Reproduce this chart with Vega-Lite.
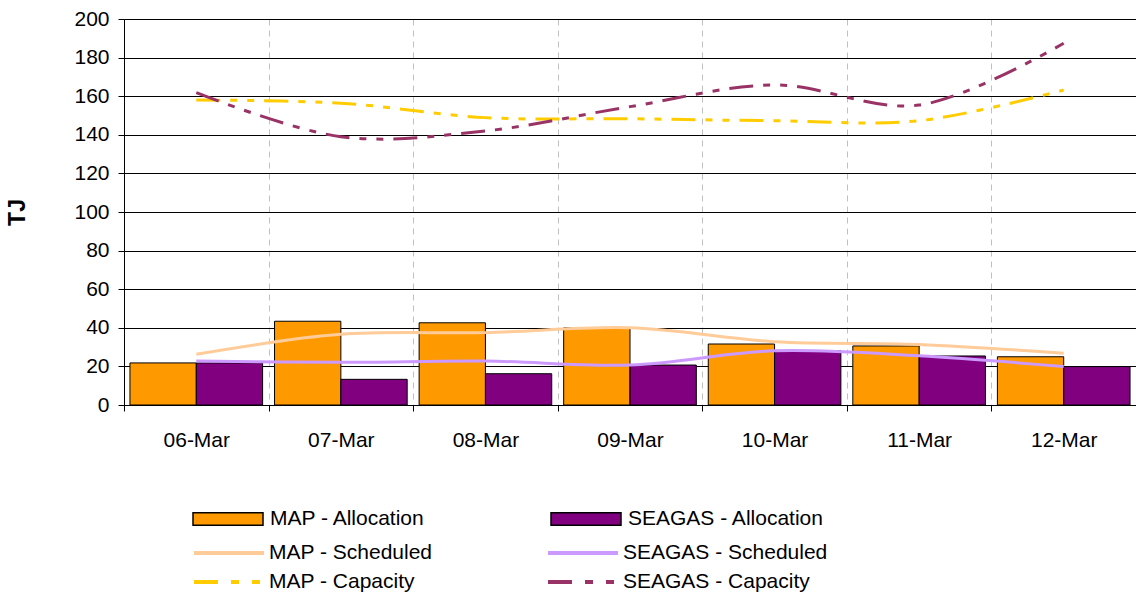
{
  "$schema": "https://vega.github.io/schema/vega-lite/v6.json",
  "width": 1012,
  "height": 386,
  "autosize": {"type": "none"},
  "padding": {"left": 124, "top": 19, "right": 0, "bottom": 187},
  "background": "white",
  "config": {
    "font": "Liberation Sans",
    "view": {"stroke": null},
    "axis": {"labelFont": "Liberation Sans", "titleFont": "Liberation Sans", "labelColor": "black", "titleColor": "black", "domainColor": "black", "tickColor": "black"},
    "legend": {"labelFont": "Liberation Sans", "labelFontSize": 21, "labelColor": "black", "labelLimit": 400, "labelOffset": 7, "title": null}
  },
  "data": {"values": [
    {"date": "06-Mar", "series": "MAP - Allocation", "value": 21.8},
    {"date": "06-Mar", "series": "SEAGAS - Allocation", "value": 21.8},
    {"date": "06-Mar", "series": "MAP - Scheduled", "value": 26.3},
    {"date": "06-Mar", "series": "SEAGAS - Scheduled", "value": 22.8},
    {"date": "06-Mar", "series": "MAP - Capacity", "value": 158.0},
    {"date": "06-Mar", "series": "SEAGAS - Capacity", "value": 161.8},
    {"date": "07-Mar", "series": "MAP - Allocation", "value": 43.4},
    {"date": "07-Mar", "series": "SEAGAS - Allocation", "value": 13.3},
    {"date": "07-Mar", "series": "MAP - Scheduled", "value": 36.6},
    {"date": "07-Mar", "series": "SEAGAS - Scheduled", "value": 22.1},
    {"date": "07-Mar", "series": "MAP - Capacity", "value": 156.4},
    {"date": "07-Mar", "series": "SEAGAS - Capacity", "value": 139.0},
    {"date": "08-Mar", "series": "MAP - Allocation", "value": 42.6},
    {"date": "08-Mar", "series": "SEAGAS - Allocation", "value": 16.2},
    {"date": "08-Mar", "series": "MAP - Scheduled", "value": 37.5},
    {"date": "08-Mar", "series": "SEAGAS - Scheduled", "value": 22.8},
    {"date": "08-Mar", "series": "MAP - Capacity", "value": 148.9},
    {"date": "08-Mar", "series": "SEAGAS - Capacity", "value": 142.0},
    {"date": "09-Mar", "series": "MAP - Allocation", "value": 40.0},
    {"date": "09-Mar", "series": "SEAGAS - Allocation", "value": 20.7},
    {"date": "09-Mar", "series": "MAP - Scheduled", "value": 40.0},
    {"date": "09-Mar", "series": "SEAGAS - Scheduled", "value": 20.7},
    {"date": "09-Mar", "series": "MAP - Capacity", "value": 148.3},
    {"date": "09-Mar", "series": "SEAGAS - Capacity", "value": 154.6},
    {"date": "10-Mar", "series": "MAP - Allocation", "value": 31.6},
    {"date": "10-Mar", "series": "SEAGAS - Allocation", "value": 28.1},
    {"date": "10-Mar", "series": "MAP - Scheduled", "value": 32.8},
    {"date": "10-Mar", "series": "SEAGAS - Scheduled", "value": 28.1},
    {"date": "10-Mar", "series": "MAP - Capacity", "value": 147.3},
    {"date": "10-Mar", "series": "SEAGAS - Capacity", "value": 165.8},
    {"date": "11-Mar", "series": "MAP - Allocation", "value": 30.6},
    {"date": "11-Mar", "series": "SEAGAS - Allocation", "value": 25.4},
    {"date": "11-Mar", "series": "MAP - Scheduled", "value": 31.4},
    {"date": "11-Mar", "series": "SEAGAS - Scheduled", "value": 25.5},
    {"date": "11-Mar", "series": "MAP - Capacity", "value": 147.3},
    {"date": "11-Mar", "series": "SEAGAS - Capacity", "value": 155.4},
    {"date": "12-Mar", "series": "MAP - Allocation", "value": 25.0},
    {"date": "12-Mar", "series": "SEAGAS - Allocation", "value": 19.9},
    {"date": "12-Mar", "series": "MAP - Scheduled", "value": 26.8},
    {"date": "12-Mar", "series": "SEAGAS - Scheduled", "value": 19.9},
    {"date": "12-Mar", "series": "MAP - Capacity", "value": 163.2},
    {"date": "12-Mar", "series": "SEAGAS - Capacity", "value": 187.4}
  ]},
  "encoding": {
    "x": {
      "field": "date", "type": "nominal", "sort": null,
      "scale": {"paddingInner": 0, "paddingOuter": 0},
      "axis": {"title": null, "labelAngle": 0, "labelFontSize": 21, "labelPadding": 18, "tickBand": "extent", "tickSize": 6, "grid": true, "gridColor": "#c0c0c0", "gridDash": [6, 5], "gridWidth": 1}
    },
    "y": {
      "field": "value", "type": "quantitative",
      "scale": {"domain": [0, 200], "nice": false},
      "axis": {"title": "TJ", "values": [0, 20, 40, 60, 80, 100, 120, 140, 160, 180, 200], "labelOverlap": false, "labelFontSize": 21, "labelPadding": 9, "tickSize": 6, "grid": true, "gridColor": "#000000", "gridWidth": 1, "titleFontSize": 23, "titleFontWeight": "bold", "titlePadding": 44}
    }
  },
  "layer": [
    {
      "transform": [{"filter": "indexof(datum.series, 'Allocation') >= 0"}],
      "mark": {"type": "bar", "stroke": "black", "strokeWidth": 1},
      "encoding": {
        "xOffset": {
          "field": "series", "type": "nominal",
          "sort": ["MAP - Allocation", "SEAGAS - Allocation"],
          "scale": {"paddingInner": 0, "paddingOuter": 0.09}
        },
        "fill": {
          "field": "series", "type": "nominal",
          "scale": {"domain": ["MAP - Allocation", "SEAGAS - Allocation"], "range": ["#FF9900", "#800080"]},
          "legend": {
            "orient": "none", "legendX": 68, "legendY": 464, "columns": 2, "direction": "horizontal",
            "symbolType": "M-1,-0.176H1V0.176H-1Z", "symbolSize": 4900,
            "symbolStrokeColor": "black", "symbolStrokeWidth": 1.5, "symbolOpacity": 1,
            "labelOffset": 6, "columnPadding": 122
          }
        }
      }
    },
    {
      "transform": [{"filter": "indexof(datum.series, 'Scheduled') >= 0"}],
      "mark": {"type": "line", "strokeWidth": 3, "interpolate": "catmull-rom"},
      "encoding": {
        "stroke": {
          "field": "series", "type": "nominal",
          "scale": {"domain": ["MAP - Scheduled", "SEAGAS - Scheduled"], "range": ["#FFCC99", "#CC99FF"]},
          "legend": {
            "orient": "none", "legendX": 68, "legendY": 497, "columns": 2, "direction": "horizontal",
            "symbolType": "stroke", "symbolSize": 4900, "symbolStrokeWidth": 4, "symbolOpacity": 1,
            "labelOffset": 3, "columnPadding": 107
          }
        }
      }
    },
    {
      "transform": [{"filter": "indexof(datum.series, 'Capacity') >= 0"}],
      "mark": {"type": "line", "strokeWidth": 3, "interpolate": "catmull-rom", "strokeDash": [24, 10, 7, 10, 7, 10]},
      "encoding": {
        "color": {
          "field": "series", "type": "nominal",
          "scale": {"domain": ["MAP - Capacity", "SEAGAS - Capacity"], "range": ["#FFCC00", "#993366"]},
          "legend": {
            "orient": "none", "legendX": 68, "legendY": 526, "columns": 2, "direction": "horizontal",
            "symbolType": "stroke", "symbolSize": 4900, "symbolStrokeWidth": 4, "symbolOpacity": 1,
            "symbolDash": [24, 13, 8, 13, 8, 100],
            "labelOffset": 3, "columnPadding": 125
          }
        }
      }
    }
  ]
}
